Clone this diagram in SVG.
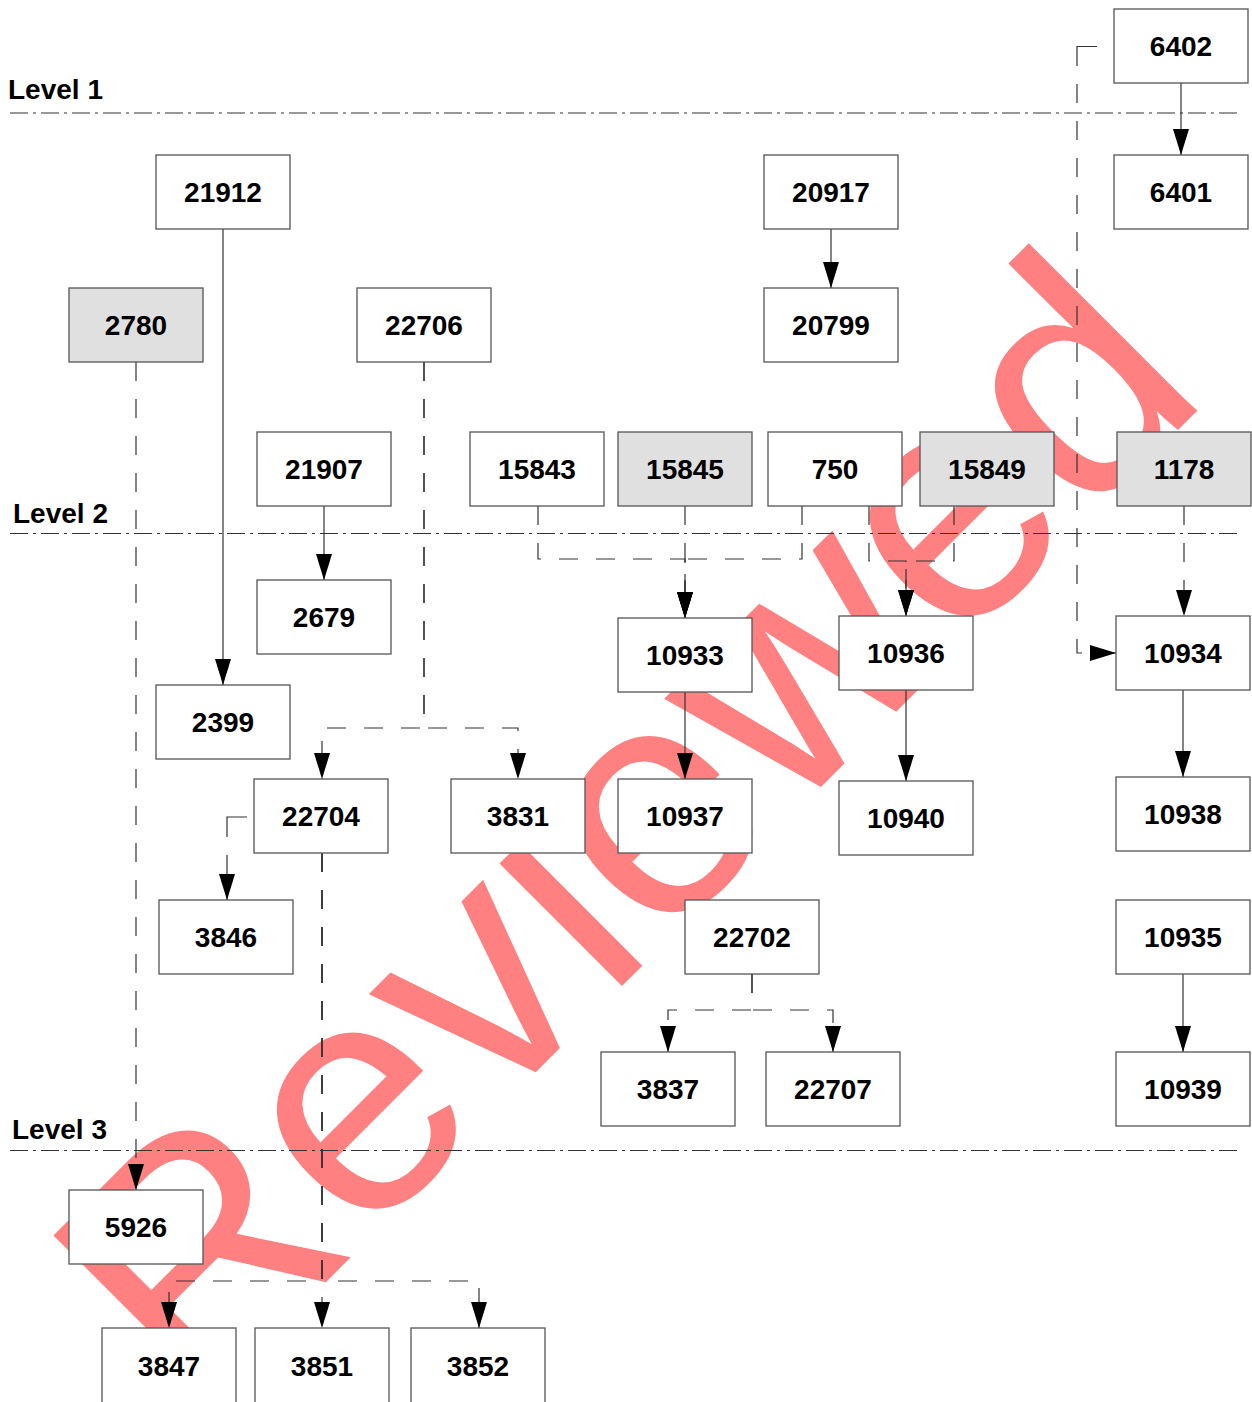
<svg xmlns="http://www.w3.org/2000/svg" width="1252" height="1402" viewBox="0 0 1252 1402">
<style>
.wm{font-family:"Liberation Sans",Arial,sans-serif;font-size:328px;fill:#ff8080}
.lvl{fill:none;stroke:#333;stroke-width:1.2;stroke-dasharray:18 5 3 5}
.lbl{font-family:"Liberation Sans",Arial,sans-serif;font-size:28px;font-weight:bold;fill:#000}
.box{fill:#fff;stroke:#555;stroke-width:1.3}
.gray{fill:#e0e0e0}
.t{font-family:"Liberation Sans",Arial,sans-serif;font-size:28px;font-weight:bold;fill:#000;text-anchor:middle}
.s{fill:none;stroke:#333;stroke-width:1.2;marker-end:url(#arr)}
.d{fill:none;stroke:#333;stroke-width:1.2;stroke-dasharray:19 18;marker-end:url(#arr)}
.p{fill:none;stroke:#333;stroke-width:1.2}
</style>
<defs>
<marker id="arr" markerUnits="userSpaceOnUse" markerWidth="26" markerHeight="16" refX="26" refY="8" orient="auto"><path d="M0,0 L26,8 L0,16 z" fill="#000"/></marker>
</defs>
<rect width="1252" height="1402" fill="#fff"/>
<text class="wm" transform="translate(194,1414) rotate(-45)">Reviewed</text>
<g id="levels">
<line class="lvl" x1="10" y1="113" x2="1238" y2="113"/>
<line class="lvl" x1="10" y1="533.5" x2="1238" y2="533.5"/>
<line class="lvl" x1="10" y1="1150.5" x2="1238" y2="1150.5"/>
<text class="lbl" x="8" y="99">Level 1</text>
<text class="lbl" x="13" y="523">Level 2</text>
<text class="lbl" x="12" y="1139">Level 3</text>
</g>
<g id="connectors">
<path class="s" d="M1181,83 V155"/>
<path class="p" d="M1097,46.5 H1077 V66"/>
<path class="d" d="M1077,84 V653 H1116"/>
<path class="s" d="M223,229 V685"/>
<path class="s" d="M831,229 V288"/>
<path class="d" d="M136,362 V1190"/>
<path class="d" d="M424,362 V728 H322 V779"/>
<path class="d" d="M424,362 V728 H518 V779"/>
<path class="s" d="M324,506 V580"/>
<path class="d" d="M538,506 V559 H685 V618"/>
<path class="d" d="M685,506 V618"/>
<path class="d" d="M802,506 V559 H685 V618"/>
<path class="d" d="M869,506 V561 H906 V616"/>
<path class="d" d="M954,506 V561 H906 V616"/>
<path class="d" d="M1184,506 V616"/>
<path class="s" d="M685,692 V779"/>
<path class="s" d="M906,690 V781"/>
<path class="s" d="M1183,690 V777"/>
<path class="p" d="M247,817 H227 V837"/>
<path class="d" d="M227,855 V900"/>
<path class="d" d="M322,853 V1328"/>
<path class="d" d="M322,853 V1281 H169 V1328"/>
<path class="d" d="M322,853 V1281 H479 V1328"/>
<path class="d" d="M752,974 V1010 H668 V1052"/>
<path class="d" d="M752,974 V1010 H833 V1052"/>
<path class="s" d="M1183,974 V1052"/>
</g>
<g id="n6402"><rect class="box" x="1114" y="9" width="134" height="74"/><text class="t" x="1181" y="56">6402</text></g>
<g id="n6401"><rect class="box" x="1114" y="155" width="134" height="74"/><text class="t" x="1181" y="202">6401</text></g>
<g id="n21912"><rect class="box" x="156" y="155" width="134" height="74"/><text class="t" x="223" y="202">21912</text></g>
<g id="n20917"><rect class="box" x="764" y="155" width="134" height="74"/><text class="t" x="831" y="202">20917</text></g>
<g id="n2780"><rect class="box gray" x="69" y="288" width="134" height="74"/><text class="t" x="136" y="335">2780</text></g>
<g id="n22706"><rect class="box" x="357" y="288" width="134" height="74"/><text class="t" x="424" y="335">22706</text></g>
<g id="n20799"><rect class="box" x="764" y="288" width="134" height="74"/><text class="t" x="831" y="335">20799</text></g>
<g id="n21907"><rect class="box" x="257" y="432" width="134" height="74"/><text class="t" x="324" y="479">21907</text></g>
<g id="n15843"><rect class="box" x="470" y="432" width="134" height="74"/><text class="t" x="537" y="479">15843</text></g>
<g id="n15845"><rect class="box gray" x="618" y="432" width="134" height="74"/><text class="t" x="685" y="479">15845</text></g>
<g id="n750"><rect class="box" x="768" y="432" width="134" height="74"/><text class="t" x="835" y="479">750</text></g>
<g id="n15849"><rect class="box gray" x="920" y="432" width="134" height="74"/><text class="t" x="987" y="479">15849</text></g>
<g id="n1178"><rect class="box gray" x="1117" y="432" width="134" height="74"/><text class="t" x="1184" y="479">1178</text></g>
<g id="n2679"><rect class="box" x="257" y="580" width="134" height="74"/><text class="t" x="324" y="627">2679</text></g>
<g id="n10933"><rect class="box" x="618" y="618" width="134" height="74"/><text class="t" x="685" y="665">10933</text></g>
<g id="n10936"><rect class="box" x="839" y="616" width="134" height="74"/><text class="t" x="906" y="663">10936</text></g>
<g id="n10934"><rect class="box" x="1116" y="616" width="134" height="74"/><text class="t" x="1183" y="663">10934</text></g>
<g id="n2399"><rect class="box" x="156" y="685" width="134" height="74"/><text class="t" x="223" y="732">2399</text></g>
<g id="n22704"><rect class="box" x="254" y="779" width="134" height="74"/><text class="t" x="321" y="826">22704</text></g>
<g id="n3831"><rect class="box" x="451" y="779" width="134" height="74"/><text class="t" x="518" y="826">3831</text></g>
<g id="n10937"><rect class="box" x="618" y="779" width="134" height="74"/><text class="t" x="685" y="826">10937</text></g>
<g id="n10940"><rect class="box" x="839" y="781" width="134" height="74"/><text class="t" x="906" y="828">10940</text></g>
<g id="n10938"><rect class="box" x="1116" y="777" width="134" height="74"/><text class="t" x="1183" y="824">10938</text></g>
<g id="n3846"><rect class="box" x="159" y="900" width="134" height="74"/><text class="t" x="226" y="947">3846</text></g>
<g id="n22702"><rect class="box" x="685" y="900" width="134" height="74"/><text class="t" x="752" y="947">22702</text></g>
<g id="n10935"><rect class="box" x="1116" y="900" width="134" height="74"/><text class="t" x="1183" y="947">10935</text></g>
<g id="n3837"><rect class="box" x="601" y="1052" width="134" height="74"/><text class="t" x="668" y="1099">3837</text></g>
<g id="n22707"><rect class="box" x="766" y="1052" width="134" height="74"/><text class="t" x="833" y="1099">22707</text></g>
<g id="n10939"><rect class="box" x="1116" y="1052" width="134" height="74"/><text class="t" x="1183" y="1099">10939</text></g>
<g id="n5926"><rect class="box" x="69" y="1190" width="134" height="74"/><text class="t" x="136" y="1237">5926</text></g>
<g id="n3847"><rect class="box" x="102" y="1328" width="134" height="80"/><text class="t" x="169" y="1376">3847</text></g>
<g id="n3851"><rect class="box" x="255" y="1328" width="134" height="80"/><text class="t" x="322" y="1376">3851</text></g>
<g id="n3852"><rect class="box" x="411" y="1328" width="134" height="80"/><text class="t" x="478" y="1376">3852</text></g>
</svg>
